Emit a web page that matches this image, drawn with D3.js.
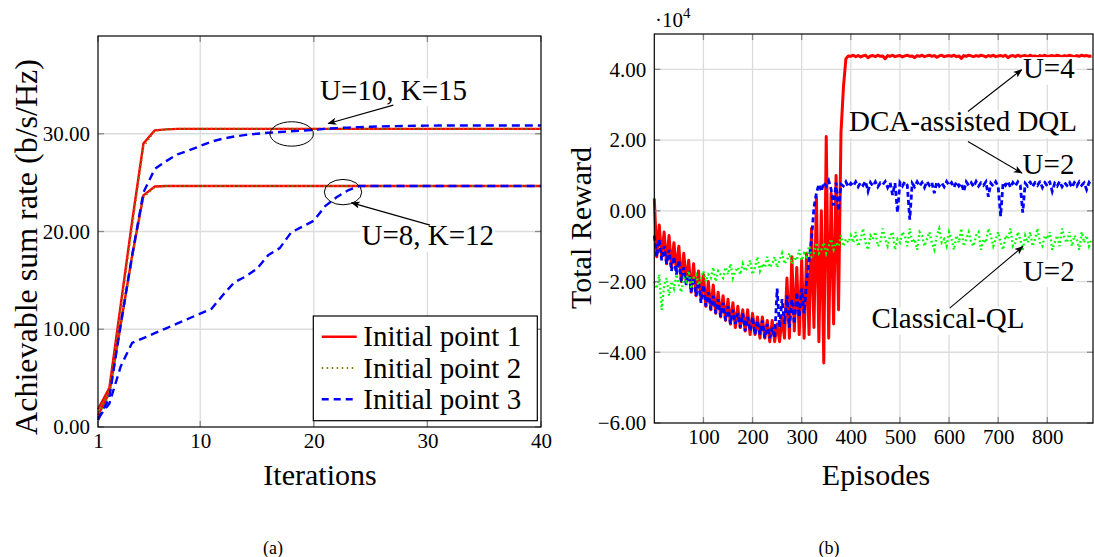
<!DOCTYPE html>
<html>
<meta charset="utf-8">
<script src="https://d3js.org/d3.v7.min.js"></script>
<style>
  body { margin: 0; background: #fff; }
  text { font-family: "Liberation Serif", "Times New Roman", Times, "DejaVu Serif", serif; fill: #000; }
</style>
<body>
<div id="chart"></div>
<script>

// ---------- (a) sum rate vs iterations ----------
var iterations = [1,2,3,4,5,6,7,8,9,10,11,12,13,14,15,16,17,18,19,20,
                  21,22,23,24,25,26,27,28,29,30,31,32,33,34,35,36,37,38,39,40];

// U=10, K=15
var ip1K15 = [1.8,4.0,12.5,21.0,29.0,30.35,30.45,30.5,30.5,30.5,30.5,30.5,30.5,30.5,30.5,30.5,30.5,30.5,30.5,30.5,
              30.5,30.5,30.5,30.5,30.5,30.5,30.5,30.5,30.5,30.5,30.5,30.5,30.5,30.5,30.5,30.5,30.5,30.5,30.5,30.5];
var ip2K15 = [1.5,3.7,12.0,20.5,28.7,30.3,30.45,30.5,30.5,30.5,30.5,30.5,30.5,30.5,30.5,30.5,30.5,30.5,30.5,30.5,
              30.5,30.5,30.5,30.5,30.5,30.5,30.5,30.5,30.5,30.5,30.5,30.5,30.5,30.5,30.5,30.5,30.5,30.5,30.5,30.5];
var ip3K15 = [0.7,3.0,10.5,17.5,24.0,26.4,27.2,27.9,28.3,28.75,29.2,29.5,29.72,29.88,30.0,30.1,30.18,30.25,30.32,30.4,
              30.5,30.58,30.63,30.68,30.72,30.75,30.78,30.8,30.82,30.83,30.84,30.85,30.85,30.85,30.85,30.85,30.85,30.85,30.85,30.85];
// U=8, K=12
var ip1K12 = [1.2,3.5,10.5,17.5,23.7,24.6,24.65,24.65,24.65,24.65,24.65,24.65,24.65,24.65,24.65,24.65,24.65,24.65,24.65,24.65,
              24.65,24.65,24.65,24.65,24.65,24.65,24.65,24.65,24.65,24.65,24.65,24.65,24.65,24.65,24.65,24.65,24.65,24.65,24.65,24.65];
var ip2K12 = [1.0,3.3,10.2,17.2,23.5,24.55,24.65,24.65,24.65,24.65,24.65,24.65,24.65,24.65,24.65,24.65,24.65,24.65,24.65,24.65,
              24.65,24.65,24.65,24.65,24.65,24.65,24.65,24.65,24.65,24.65,24.65,24.65,24.65,24.65,24.65,24.65,24.65,24.65,24.65,24.65];
var ip3K12 = [0.9,2.4,6.2,8.6,9.1,9.6,10.1,10.6,11.1,11.6,12.1,13.5,14.8,15.4,16.2,17.6,18.3,19.9,20.5,21.1,
              22.6,23.5,24.2,24.65,24.65,24.65,24.65,24.65,24.65,24.65,24.65,24.65,24.65,24.65,24.65,24.65,24.65,24.65,24.65,24.65];

var legendLabels = ["Initial point 1", "Initial point 2", "Initial point 3"];
var iterTicks = [1, 10, 20, 30, 40];
var rateTicks = [0, 10, 20, 30];

// ---------- (b) total reward vs episodes (values in 1e4, one every 5 episodes) ----------
var episodeStep = 5;
var dqlU4 = [
  0.35,-1.3,-0.4,-1.3,-0.6,-1.5,-0.7,-1.6,-0.9,-1.7,
  -1.0,-2.0,-1.2,-2.0,-1.4,-2.3,-1.5,-2.4,-1.7,-2.5,
  -1.8,-2.7,-2.0,-2.8,-2.1,-2.9,-2.3,-3.0,-2.4,-3.1,
  -2.5,-3.2,-2.6,-3.3,-2.7,-3.3,-2.8,-3.4,-2.8,-3.5,
  -2.9,-3.5,-3.0,-3.6,-3.0,-3.6,-3.1,-3.7,-3.1,-3.7,
  -3.2,-3.7,-3.0,-3.6,-1.9,-3.6,-1.3,-3.4,-1.6,-3.5,
  -1.4,-3.6,-1.2,-3.5,-0.5,-3.3,0.4,-3.7,0.0,-4.3,
  2.1,-3.6,0.5,-3.2,1.0,-2.8,2.2,3.5,4.3,4.38,
  4.37,4.40,4.36,4.39,4.35,4.38,4.40,4.33,4.38,4.39,
  4.36,4.40,4.37,4.38,4.30,4.39,4.37,4.40,4.36,4.38,
  4.39,4.35,4.38,4.40,4.37,4.38,4.33,4.39,4.37,4.40,
  4.36,4.38,4.40,4.37,4.39,4.34,4.38,4.40,4.36,4.38,
  4.39,4.37,4.40,4.36,4.38,4.31,4.39,4.37,4.40,4.38,
  4.36,4.39,4.37,4.40,4.38,4.35,4.39,4.37,4.40,4.36,
  4.38,4.39,4.37,4.40,4.33,4.38,4.39,4.36,4.40,4.37,
  4.38,4.39,4.36,4.40,4.37,4.38,4.35,4.39,4.37,4.40,
  4.36,4.38,4.39,4.37,4.40,4.38,4.36,4.39,4.37,4.40,
  4.38,4.36,4.39,4.37,4.40,4.38,4.39,4.37,4.38];
var dqlU2 = [
  -0.7,-1.3,-0.8,-1.4,-1.0,-1.5,-1.1,-1.7,-1.3,-1.8,
  -1.4,-2.0,-1.6,-2.1,-1.7,-2.3,-1.9,-2.4,-2.0,-2.6,
  -2.1,-2.7,-2.3,-2.8,-2.4,-2.9,-2.5,-3.0,-2.6,-3.1,
  -2.7,-3.2,-2.8,-3.2,-2.9,-3.3,-2.9,-3.4,-3.0,-3.4,
  -3.0,-3.5,-3.1,-3.5,-3.1,-3.6,-3.2,-3.6,-3.3,-3.6,
  -2.2,-3.3,-2.5,-3.2,-2.4,-3.3,-2.5,-3.2,-2.3,-3.0,
  -2.2,-2.9,-2.0,-1.4,-0.8,0.1,0.5,0.75,0.55,0.8,
  0.7,0.85,0.6,0.15,0.8,0.0,0.75,0.7,0.82,0.68,
  0.78,0.70,0.82,0.68,0.80,0.72,0.83,0.55,0.80,0.70,
  0.82,0.68,0.79,0.74,0.83,0.66,0.80,0.45,0.78,-0.05,
  0.80,0.70,0.82,0.72,-0.25,0.78,0.68,0.82,0.70,0.80,
  0.66,0.83,0.72,0.80,0.50,0.82,0.70,0.79,0.68,0.83,
  0.72,0.80,0.66,0.82,0.70,0.78,0.55,0.82,0.72,0.80,
  0.68,0.83,0.70,0.79,0.72,0.82,0.40,0.78,0.70,0.82,
  0.68,-0.15,0.80,0.72,0.83,0.66,0.80,0.70,0.82,0.72,
  -0.05,0.78,0.70,0.82,0.68,0.80,0.72,0.83,0.66,0.80,
  0.70,0.82,0.55,0.78,0.70,0.83,0.68,0.80,0.72,0.82,
  0.66,0.80,0.70,0.82,0.72,0.79,0.60,0.80,0.70];
var qlU2 = [
  -2.0,-2.2,-1.8,-2.8,-2.1,-1.9,-2.4,-2.0,-2.2,-1.8,
  -2.1,-2.3,-1.9,-2.0,-1.7,-2.2,-1.9,-1.8,-2.1,-1.9,
  -1.7,-2.0,-1.8,-1.9,-1.6,-2.0,-1.7,-1.8,-1.9,-1.6,
  -1.8,-1.5,-1.9,-1.7,-1.6,-1.8,-1.5,-1.7,-1.6,-1.4,
  -1.8,-1.6,-1.3,-1.7,-1.5,-1.6,-1.3,-1.6,-1.5,-1.3,
  -1.6,-1.4,-1.2,-1.5,-1.4,-1.2,-1.5,-1.3,-1.4,-1.1,
  -1.4,-1.2,-1.3,-1.0,-1.3,-1.2,-0.9,-1.2,-1.1,-0.9,
  -1.2,-1.0,-0.8,-1.1,-0.9,-1.0,-0.7,-1.0,-0.8,-0.9,
  -0.7,-0.9,-0.6,-1.0,-0.8,-0.5,-0.9,-1.1,-0.7,-0.8,
  -0.6,-1.0,-0.9,-0.5,-0.8,-1.0,-0.7,-0.6,-1.1,-0.8,
  -0.9,-0.6,-0.7,-1.0,-0.5,-0.9,-0.8,-1.1,-0.6,-0.7,
  -1.0,-0.8,-0.6,-0.9,-1.1,-0.7,-0.5,-0.9,-0.8,-1.0,
  -0.6,-0.8,-1.1,-0.7,-0.9,-0.5,-1.0,-0.8,-0.6,-0.9,
  -1.0,-0.7,-0.6,-1.1,-0.8,-0.9,-0.5,-0.7,-1.0,-0.8,
  -0.6,-0.9,-1.1,-0.7,-0.8,-0.5,-1.0,-0.9,-0.6,-0.8,
  -1.1,-0.7,-0.9,-0.6,-1.0,-0.8,-0.5,-0.9,-1.0,-0.7,
  -0.8,-0.6,-1.1,-0.9,-0.7,-1.0,-0.5,-0.8,-0.9,-0.6,
  -1.0,-0.7,-0.8,-1.1,-0.6,-0.9,-0.7,-1.0,-0.8];
var episodeTicks = [100, 200, 300, 400, 500, 600, 700, 800];
var rewardTicks = [-6, -4, -2, 0, 2, 4];

// ---------- svg ----------
var svg = d3.select("#chart").append("svg")
    .attr("width", 1094)
    .attr("height", 557)
    .attr("font-family", "'Liberation Serif', 'Times New Roman', Times, 'DejaVu Serif', serif");

svg.append("defs").append("marker")
    .attr("id", "arr")
    .attr("viewBox", "0 0 10 10")
    .attr("refX", 9).attr("refY", 5)
    .attr("markerWidth", 9).attr("markerHeight", 9)
    .attr("markerUnits", "userSpaceOnUse")
    .attr("orient", "auto")
  .append("path")
    .attr("d", "M0,1 L10,5 L0,9 L2.5,5 Z")
    .attr("fill", "#000");

function grid(g, x, y, xt, yt) {
  var x0 = x.range()[0], x1 = x.range()[1], y0 = y.range()[0], y1 = y.range()[1];
  g.append("g").selectAll("line")
    .data(xt.filter(function(d) { return x(d) > x0 + 1 && x(d) < x1 - 1; }))
    .enter().append("line")
      .attr("x1", function(d) { return x(d); }).attr("x2", function(d) { return x(d); })
      .attr("y1", y0).attr("y2", y1)
      .attr("stroke", "#dcdcdc").attr("stroke-width", 1.3);
  g.append("g").selectAll("line")
    .data(yt.filter(function(d) { return y(d) < y0 - 1 && y(d) > y1 + 1; }))
    .enter().append("line")
      .attr("y1", function(d) { return y(d); }).attr("y2", function(d) { return y(d); })
      .attr("x1", x0).attr("x2", x1)
      .attr("stroke", "#dcdcdc").attr("stroke-width", 1.3);
}

function frame(g, x, y, xt, yt, fx, fy) {
  var x0 = x.range()[0], x1 = x.range()[1], y0 = y.range()[0], y1 = y.range()[1];
  var tk = 6;
  // inward tick marks on all four sides
  xt.forEach(function(d) {
    g.append("line").attr("x1", x(d)).attr("x2", x(d)).attr("y1", y0).attr("y2", y0 - tk)
      .attr("stroke", "#8a8a8a").attr("stroke-width", 1.3);
    g.append("line").attr("x1", x(d)).attr("x2", x(d)).attr("y1", y1).attr("y2", y1 + tk)
      .attr("stroke", "#8a8a8a").attr("stroke-width", 1.3);
  });
  yt.forEach(function(d) {
    g.append("line").attr("y1", y(d)).attr("y2", y(d)).attr("x1", x0).attr("x2", x0 + tk)
      .attr("stroke", "#8a8a8a").attr("stroke-width", 1.3);
    g.append("line").attr("y1", y(d)).attr("y2", y(d)).attr("x1", x1).attr("x2", x1 - tk)
      .attr("stroke", "#8a8a8a").attr("stroke-width", 1.3);
  });
  g.append("rect")
    .attr("x", x0).attr("y", y1)
    .attr("width", x1 - x0).attr("height", y0 - y1)
    .attr("fill", "none").attr("stroke", "#000").attr("stroke-width", 1.2);

  var ax = g.append("g")
    .attr("transform", "translate(0," + y0 + ")")
    .call(d3.axisBottom(x).tickValues(xt).tickFormat(fx).tickSize(0).tickPadding(6));
  var ay = g.append("g")
    .attr("transform", "translate(" + x0 + ",0)")
    .call(d3.axisLeft(y).tickValues(yt).tickFormat(fy).tickSize(0).tickPadding(8));
  [ax, ay].forEach(function(a) {
    a.attr("font-family", null).attr("font-size", 21);
    a.select(".domain").remove();
  });
}

// text node with a white box behind it (box kept tight so nearby curves stay visible)
function note(g, txt, x, y, size) {
  size = size || 29;
  var t = g.append("text").attr("x", x).attr("y", y)
    .attr("font-size", size).text(txt);
  var b = t.node().getBBox();
  g.insert("rect", function() { return t.node(); })
    .attr("x", b.x - 1).attr("y", y - 0.72 * size)
    .attr("width", b.width + 2).attr("height", 0.95 * size)
    .attr("fill", "#fff");
}

function arrow(g, p, q) {
  g.append("line")
    .attr("x1", p[0]).attr("y1", p[1]).attr("x2", q[0]).attr("y2", q[1])
    .attr("stroke", "#000").attr("stroke-width", 1.1)
    .attr("marker-end", "url(#arr)");
}

// ================= panel (a) =================
var xL = d3.scaleLinear().domain([1, 40]).range([98, 541]);
var yL = d3.scaleLinear().domain([0, 40]).range([427, 36]);
var gA = svg.append("g");

grid(gA, xL, yL, iterTicks, rateTicks);

var lineL = d3.line()
  .x(function(d, i) { return xL(iterations[i]); })
  .y(function(d) { return yL(d); });

var stylesA = [
  { color: "#ff0000", width: 2.4, dash: null },
  { color: "#808000", width: 2.0, dash: "1.5,3" },
  { color: "#0000ff", width: 2.4, dash: "8,5" }
];
var seriesA = [[ip1K15, ip1K12], [ip2K15, ip2K12], [ip3K15, ip3K12]];

seriesA.forEach(function(pair, k) {
  pair.forEach(function(vals) {
    gA.append("path")
      .datum(vals)
      .attr("d", lineL)
      .attr("fill", "none")
      .attr("stroke", stylesA[k].color)
      .attr("stroke-width", stylesA[k].width)
      .attr("stroke-dasharray", stylesA[k].dash)
      .attr("stroke-linejoin", "round");
  });
});

frame(gA, xL, yL, iterTicks, rateTicks, d3.format("d"), d3.format(".2f"));

// ellipses + annotations
gA.append("ellipse")
  .attr("cx", xL(18.05)).attr("cy", yL(29.98))
  .attr("rx", 21.7).attr("ry", 12.2)
  .attr("fill", "none").attr("stroke", "#000").attr("stroke-width", 1);
gA.append("ellipse")
  .attr("cx", xL(22.57)).attr("cy", yL(24.03))
  .attr("rx", 18.7).attr("ry", 12.7)
  .attr("fill", "none").attr("stroke", "#000").attr("stroke-width", 1);

note(gA, "U=10, K=15", xL(20.54), yL(33.5));
arrow(gA, [xL(27.0), yL(32.93)], [xL(21.27), yL(31.05)]);
note(gA, "U=8, K=12", xL(24.2), yL(18.6));
arrow(gA, [xL(30.23), yL(20.65)], [xL(23.33), yL(22.93)]);

// legend
var leg = gA.append("g");
leg.append("rect")
  .attr("x", 313.3).attr("y", 316)
  .attr("width", 224).attr("height", 104.7)
  .attr("fill", "#fff").attr("stroke", "#000").attr("stroke-width", 1.2);
legendLabels.forEach(function(lab, i) {
  var cy = 336.7 + i * 31.3;
  leg.append("line")
    .attr("x1", 321.7).attr("x2", 356.7).attr("y1", cy).attr("y2", cy)
    .attr("stroke", stylesA[i].color).attr("stroke-width", stylesA[i].width)
    .attr("stroke-dasharray", i === 1 ? "1.5,3.5" : (i === 2 ? "7,5" : null));
  leg.append("text")
    .attr("x", 363.3).attr("y", cy + 9.5)
    .attr("font-size", 29)
    .text(lab);
});

gA.append("text")
  .attr("x", 320).attr("y", 485)
  .attr("text-anchor", "middle").attr("font-size", 30)
  .text("Iterations");
gA.append("text")
  .attr("transform", "translate(37,247) rotate(-90)")
  .attr("text-anchor", "middle").attr("font-size", 32)
  .text("Achievable sum rate (b/s/Hz)");
gA.append("text")
  .attr("x", 273).attr("y", 554)
  .attr("text-anchor", "middle").attr("font-size", 18)
  .text("(a)");

// ================= panel (b) =================
var xR = d3.scaleLinear().domain([0, 893]).range([654.3, 1093]);
var yR = d3.scaleLinear().domain([-6, 5]).range([423, 34]);
var gB = svg.append("g");

grid(gB, xR, yR, episodeTicks, rewardTicks);

var lineR = d3.line()
  .x(function(d, i) { return xR(i * episodeStep); })
  .y(function(d) { return yR(d); });

gB.append("path").datum(dqlU4).attr("d", lineR)
  .attr("fill", "none").attr("stroke", "#ff0000").attr("stroke-width", 3)
  .attr("stroke-linejoin", "round");
gB.append("path").datum(dqlU2).attr("d", lineR)
  .attr("fill", "none").attr("stroke", "#0000ff").attr("stroke-width", 2.8)
  .attr("stroke-dasharray", "5,3");
gB.append("path").datum(qlU2).attr("d", lineR)
  .attr("fill", "none").attr("stroke", "#00ff00").attr("stroke-width", 2.3)
  .attr("stroke-dasharray", "1.8,2.6");

frame(gB, xR, yR, episodeTicks, rewardTicks, d3.format("d"), d3.format(".2f"));

var sci = gB.append("text").attr("x", 655).attr("y", 27).attr("font-size", 21);
sci.append("tspan").text("·10");
sci.append("tspan").attr("font-size", 15).attr("dy", -9).text("4");

note(gB, "U=4", xR(750.3), yR(3.754));
note(gB, "DCA-assisted DQL", xR(396.5), yR(2.243));
note(gB, "U=2", xR(749.7), yR(1.047));
arrow(gB, [xR(638.5), yR(2.809)], [xR(747.7), yR(3.989)]);
arrow(gB, [xR(638.5), yR(1.96)], [xR(748.3), yR(1.066)]);
note(gB, "U=2", xR(750.3), yR(-1.972));
note(gB, "Classical-QL", xR(442), yR(-3.318));
arrow(gB, [xR(601.3), yR(-2.752)], [xR(750.3), yR(-1.01)]);

gB.append("text")
  .attr("x", 876).attr("y", 485)
  .attr("text-anchor", "middle").attr("font-size", 30)
  .text("Episodes");
gB.append("text")
  .attr("transform", "translate(591,228) rotate(-90)")
  .attr("text-anchor", "middle").attr("font-size", 30)
  .text("Total Reward");
gB.append("text")
  .attr("x", 829).attr("y", 554)
  .attr("text-anchor", "middle").attr("font-size", 18)
  .text("(b)");

</script>
</body>
</html>
